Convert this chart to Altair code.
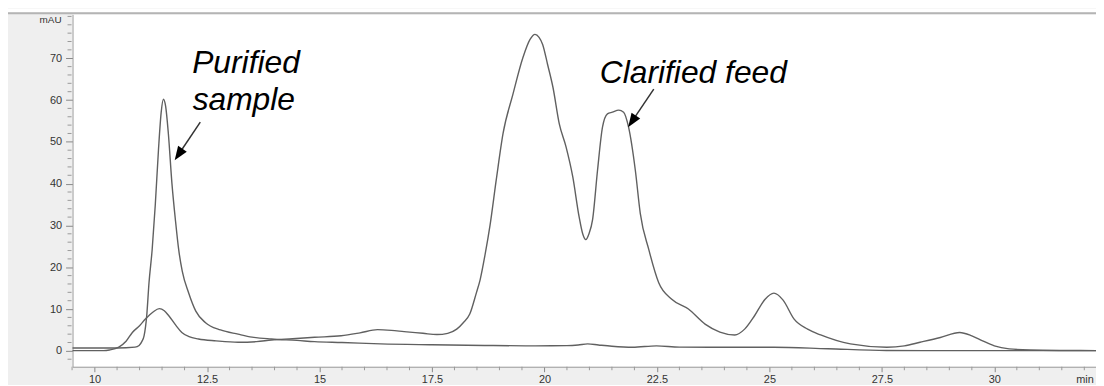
import altair as alt
import pandas as pd

# ---- data (time in min, absorbance in mAU) ----
pur_t = [9.51, 10.5, 10.9, 10.99, 11.05, 11.10, 11.16, 11.21, 11.28, 11.35, 11.42, 11.48,
         11.53, 11.58, 11.64, 11.72, 11.80, 11.87, 11.95, 12.09, 12.25, 12.46, 12.8, 13.19,
         13.5, 13.93, 14.5, 14.89, 15.5, 16.36, 17.5, 18.86, 19.8, 20.5, 20.75, 20.96, 21.2,
         21.5, 21.96, 22.49, 23.0, 24.23, 25.1, 26.3, 27.6, 29.0, 32.26]
pur_v = [0.7, 0.7, 0.9, 1.3, 2.2, 3.6, 8.5, 16.3, 24.2, 35.0, 48.0, 57.0,
         60.2, 58.5, 52.0, 40.0, 31.0, 24.2, 19.0, 13.9, 9.5, 6.8, 5.0, 4.0,
         3.3, 2.85, 2.5, 2.2, 2.0, 1.66, 1.45, 1.27, 1.2, 1.25, 1.4, 1.66, 1.4,
         1.1, 0.87, 1.2, 0.9, 0.87, 0.87, 0.5, 0.1, 0.05, 0.05]

cla_t = [9.51, 10.2, 10.33, 10.54, 10.7, 10.84, 11.0, 11.13, 11.3, 11.44, 11.55, 11.65,
         11.8, 11.94, 12.1, 12.31, 12.7, 13.19, 13.6, 13.93, 14.4, 14.89, 15.48, 15.9,
         16.29, 16.6, 16.88, 17.3, 17.61, 17.85, 18.05, 18.2, 18.34, 18.49, 18.57, 18.68,
         18.79, 18.93, 19.08, 19.3, 19.52, 19.68, 19.79, 19.88, 19.96, 20.07, 20.19, 20.33,
         20.48, 20.63, 20.77, 20.85, 20.92, 20.99, 21.07, 21.18, 21.29, 21.4, 21.51, 21.65,
         21.76, 21.87, 22.02, 22.13, 22.32, 22.54, 22.83, 23.2, 23.57, 23.9, 24.23, 24.45,
         24.67, 24.9, 25.1, 25.3, 25.55, 25.85, 26.14, 26.8, 27.61, 28.0, 28.35, 28.8,
         29.23, 29.5, 29.74, 30.0, 30.33, 30.8, 31.5, 32.26]
cla_v = [0.05, 0.05, 0.2, 0.9, 2.3, 4.4, 6.0, 7.6, 9.3, 10.1, 9.6, 8.4,
         6.2, 4.4, 3.4, 2.85, 2.4, 2.06, 2.2, 2.6, 2.9, 3.25, 3.6, 4.3,
         5.07, 4.9, 4.6, 4.2, 3.9, 4.2, 5.2, 6.8, 8.8, 14.0, 17.0, 23.0,
         30.0, 41.0, 52.0, 61.4, 70.1, 74.5, 75.7, 75.0, 73.3, 68.5, 63.0, 54.3,
         48.8, 41.6, 32.1, 28.0, 26.6, 28.0, 31.4, 43.2, 53.5, 56.7, 57.1, 57.6,
         57.1, 53.5, 43.2, 32.9, 24.2, 16.3, 12.35, 10.0, 6.4, 4.5, 3.8, 5.2,
         8.4, 12.3, 13.8, 12.2, 7.6, 5.2, 3.8, 1.66, 0.87, 1.2, 2.06, 3.2,
         4.4, 3.6, 2.4, 1.2, 0.47, 0.2, 0.1, 0.07]

x_major = [10, 12.5, 15, 17.5, 20, 22.5, 25, 27.5, 30]
x_minor = [t / 2 for t in range(19, 65) if (t / 2) not in x_major]
y_major = [0, 10, 20, 30, 40, 50, 60, 70]
y_minor = [v for v in range(-2, 81, 2) if v not in y_major]

labels = ["Purified", "sample", "Clarified feed"]
label_t = [12.17, 12.18, 21.23]
label_v = [66.4, 57.6, 64.1]

arrow_t1 = [12.35, 22.43]
arrow_v1 = [54.7, 62.6]
arrow_t2 = [11.867, 21.946]
arrow_v2 = [46.97, 54.88]

# ---- tables ----
lines_df = pd.DataFrame({
    "t": pur_t + cla_t,
    "v": pur_v + cla_v,
    "series": ["Purified sample"] * len(pur_t) + ["Clarified feed"] * len(cla_t),
})
xminor_df = pd.DataFrame({"t": x_minor})
yminor_df = pd.DataFrame({"v": y_minor})
labels_df = pd.DataFrame({"text": labels, "t": label_t, "v": label_v})
arrows_df = pd.DataFrame({"t1": arrow_t1, "v1": arrow_v1, "t2": arrow_t2, "v2": arrow_v2})
one_df = pd.DataFrame({"k": [0]})

W, H = 1031, 355
FONT = "Liberation Sans"
xs = alt.Scale(domain=[9.51, 32.26], nice=False, zero=False)
ys = alt.Scale(domain=[-3.8, 80.5], nice=False, zero=False)
XAX = alt.Axis(
    values=x_major, labelExpr="'' + datum.value", title=None, grid=False,
    tickSize=5, tickColor="#888888", domainColor="#9a9a9a", labelColor="#333333",
    labelFont=FONT, labelFontSize=11, labelPadding=2, labelFlush=False)
YAX = alt.Axis(
    values=y_major, title=None, grid=False, tickSize=7, tickColor="#888888",
    domainColor="#9a9a9a", labelColor="#333333", labelFont=FONT,
    labelFontSize=11, labelPadding=4)

lines = alt.Chart(lines_df).mark_line(
    interpolate="monotone", color="#606060", strokeWidth=1.4
).encode(
    x=alt.X("t:Q", scale=xs, axis=XAX),
    y=alt.Y("v:Q", scale=ys, axis=YAX),
    detail="series:N",
)

xminor = alt.Chart(xminor_df).mark_rule(color="#999999", strokeWidth=1).encode(
    x=alt.X("t:Q", scale=xs, axis=XAX),
    y=alt.value(H), y2=alt.value(H + 3.5),
)
yminor = alt.Chart(yminor_df).mark_rule(color="#999999", strokeWidth=1).encode(
    y=alt.Y("v:Q", scale=ys, axis=YAX),
    x=alt.value(-5), x2=alt.value(-1),
)

shafts = alt.Chart(arrows_df).mark_rule(color="#333333", strokeWidth=1.5).encode(
    x=alt.X("t1:Q", scale=xs, axis=XAX), x2="t2:Q",
    y=alt.Y("v1:Q", scale=ys, axis=YAX), y2="v2:Q",
)
heads = alt.Chart(arrows_df).mark_point(
    shape="M0,-1L0.75,1L-0.75,1Z", filled=True, color="black", opacity=1,
    size=196, angle=214,
).encode(
    x=alt.X("t2:Q", scale=xs, axis=XAX),
    y=alt.Y("v2:Q", scale=ys, axis=YAX),
)

texts = alt.Chart(labels_df).mark_text(
    align="left", baseline="alphabetic", font=FONT, fontSize=32,
    fontStyle="italic", color="black",
).encode(
    x=alt.X("t:Q", scale=xs, axis=XAX),
    y=alt.Y("v:Q", scale=ys, axis=YAX),
    text="text:N",
)

top_white = alt.Chart(one_df).mark_rect(color="white").encode(
    x=alt.value(-66), x2=alt.value(W), y=alt.value(-6), y2=alt.value(-2),
)
top_line = alt.Chart(one_df).mark_rule(color="#b4b4b4", strokeWidth=2).encode(
    x=alt.value(-66), x2=alt.value(W), y=alt.value(-1),
)
mau = alt.Chart(one_df).mark_text(
    text="mAU", align="right", baseline="middle", font=FONT, fontSize=10,
    color="#333333",
).encode(x=alt.value(-11), y=alt.value(6))
mins = alt.Chart(one_df).mark_text(
    text="min", align="left", baseline="top", font=FONT, fontSize=11,
    color="#333333",
).encode(x=alt.value(W - 20), y=alt.value(H + 7))

chart = alt.layer(
    lines, top_white, top_line, xminor, yminor, shafts, heads, texts, mau, mins
).properties(
    width=W, height=H,
    autosize=alt.AutoSizeParams(type="none"),
    padding={"left": 65, "top": 5, "right": 0, "bottom": 17},
    background="#efefef",
).configure_view(fill="white", stroke=None)

chart.save("out.html", embed_options={"renderer": "svg", "actions": False})
